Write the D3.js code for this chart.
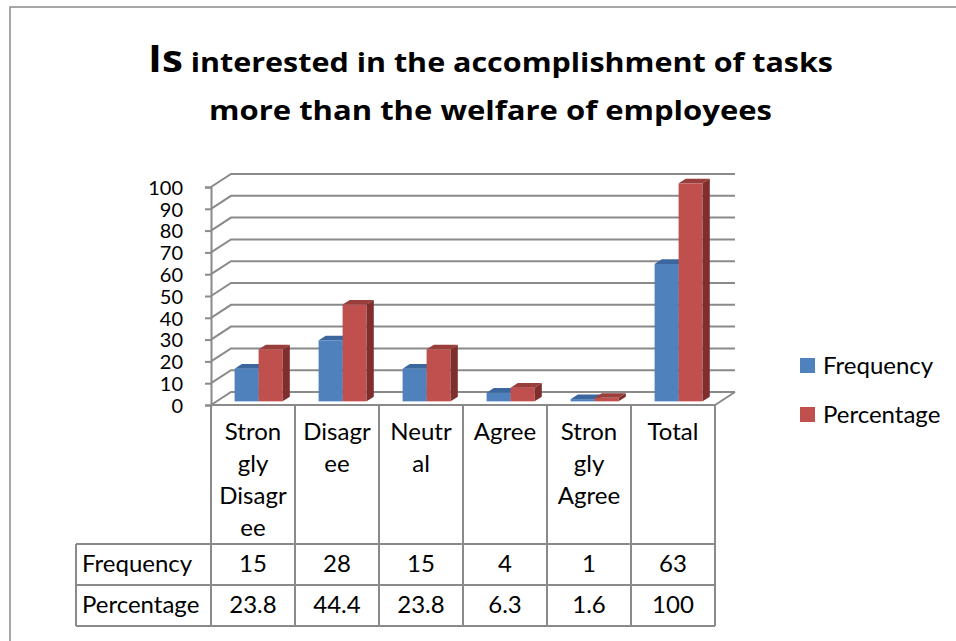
<!DOCTYPE html>
<html>
<head>
<meta charset="utf-8">
<script src="https://cdn.jsdelivr.net/npm/d3@7"></script>
<style>
  body { margin: 0; background: #fff; }
  svg text { font-family: Lato, "Open Sans", sans-serif; fill: #000; }
  svg text.title { font-family: "Open Sans", sans-serif; font-weight: bold; }
</style>
</head>
<body>
<div class="chart"></div>
<script>
// data ------
const categories = ["Strongly Disagree", "Disagree", "Neutral", "Agree", "Strongly Agree", "Total"];
const categoryLines = [["Stron", "gly", "Disagr", "ee"], ["Disagr", "ee"], ["Neutr", "al"], ["Agree"], ["Stron", "gly", "Agree"], ["Total"]];
const seriesNames = ["Frequency", "Percentage"];
const frequency = [15, 28, 15, 4, 1, 63];
const percentage = [23.8, 44.4, 23.8, 6.3, 1.6, 100];
const yTicks = [0, 10, 20, 30, 40, 50, 60, 70, 80, 90, 100];

const colors = {
  Frequency: {front: "#4F81BD", top: "#3C679E", side: "#2F5A8E"},
  Percentage: {front: "#C0504D", top: "#9A3E3B", side: "#7E2F2D"}
};

const width = 956, height = 641;
const svg = d3.select(".chart").append("svg")
  .attr("width", width)
  .attr("height", height);

// chart frame
svg.append("rect")
  .attr("x", 10).attr("y", 7)
  .attr("width", 980).attr("height", 680)
  .attr("fill", "none")
  .attr("stroke", "#8a8a8a")
  .attr("stroke-width", 1.5);

// title
const t1 = svg.append("text")
  .attr("class", "title")
  .attr("x", 148).attr("y", 72)
  .attr("textLength", 685)
  .attr("lengthAdjust", "spacingAndGlyphs");
t1.append("tspan").attr("font-size", 38).text("Is");
t1.append("tspan").attr("font-size", 27.5).text(" interested in the accomplishment of tasks");

svg.append("text")
  .attr("class", "title")
  .attr("x", 209).attr("y", 120)
  .attr("font-size", 27.5)
  .attr("textLength", 563)
  .attr("lengthAdjust", "spacingAndGlyphs")
  .text("more than the welfare of employees");

// scales ------
const x = d3.scaleBand()
  .domain(categories)
  .range([211, 715]);

const y = d3.scaleLinear()
  .domain([0, 100])
  .range([405, 187]);

const DX = 20, DY = 13;          // depth of the 3d box
const frontF = 0.28, depthF = 0.36; // where the bars sit in the depth

const xs = d3.scaleBand()
  .domain(seriesNames)
  .range([x.bandwidth() / 2 - 24, x.bandwidth() / 2 + 24]);

const gridColor = "#8a8a8a";

// gridlines on the side wall and back wall
const grid = svg.append("g");
yTicks.forEach(v => {
  const yy = y(v);
  grid.append("path")
    .attr("d", `M211,${yy}L${211 + DX},${yy - DY}L${715 + DX},${yy - DY}`)
    .attr("fill", "none")
    .attr("stroke", gridColor)
    .attr("stroke-width", 2);
});

// floor edges
grid.append("path")
  .attr("d", `M211,${y(0)}L715,${y(0)}L${715 + DX},${y(0) - DY}`)
  .attr("fill", "none")
  .attr("stroke", gridColor)
  .attr("stroke-width", 2);

// y axis
const yAxis = d3.axisLeft(y)
  .tickValues(yTicks)
  .tickSize(6)
  .tickPadding(22)
  .tickFormat(d3.format("d"));

const ga = svg.append("g")
  .attr("transform", "translate(211,0)")
  .call(yAxis);
ga.select(".domain").attr("stroke", gridColor).attr("stroke-width", 2);
ga.selectAll(".tick line").attr("stroke", gridColor).attr("stroke-width", 2);
ga.selectAll(".tick text")
  .attr("font-size", 20)
  .attr("font-family", "Lato, sans-serif")
  .attr("fill", "#000")
  .attr("dy", "0.36em");

// bars ------
const bars = [];
categories.forEach((c, i) => {
  bars.push({cat: c, s: "Frequency", v: frequency[i]});
  bars.push({cat: c, s: "Percentage", v: percentage[i]});
});

const fdx = DX * frontF, fdy = DY * frontF;
const bdx = DX * depthF, bdy = DY * depthF;

const gb = svg.append("g");
bars.forEach(d => {
  const x0 = x(d.cat) + xs(d.s) + fdx;
  const w = xs.bandwidth();
  const yTop = y(d.v) - fdy;
  const yBase = y(0) - fdy;
  const col = colors[d.s];
  gb.append("rect")
    .attr("x", x0).attr("y", yTop)
    .attr("width", w).attr("height", yBase - yTop)
    .attr("fill", col.front);
  gb.append("path")
    .attr("d", `M${x0},${yTop}L${x0 + w},${yTop}L${x0 + w + bdx},${yTop - bdy}L${x0 + bdx},${yTop - bdy}Z`)
    .attr("fill", col.top);
  gb.append("path")
    .attr("d", `M${x0 + w},${yTop}L${x0 + w + bdx},${yTop - bdy}L${x0 + w + bdx},${yBase - bdy}L${x0 + w},${yBase}Z`)
    .attr("fill", col.side);
});

// data table ------
const tableLeft = 76, row1 = 544, row2 = 585, row3 = 626;
const tg = svg.append("g")
  .attr("stroke", gridColor)
  .attr("stroke-width", 2);

x.domain().forEach(c => {
  tg.append("line")
    .attr("x1", x(c)).attr("x2", x(c))
    .attr("y1", y(0)).attr("y2", row3);
});
tg.append("line").attr("x1", 715).attr("x2", 715).attr("y1", y(0)).attr("y2", row3);
tg.append("line").attr("x1", tableLeft).attr("x2", tableLeft).attr("y1", row1).attr("y2", row3);
[row1, row2, row3].forEach(r => {
  tg.append("line").attr("x1", tableLeft).attr("x2", 715).attr("y1", r).attr("y2", r);
});

// header labels
categories.forEach((c, i) => {
  const txt = svg.append("text")
    .attr("text-anchor", "middle")
    .attr("font-size", 24);
  categoryLines[i].forEach((ln, j) => {
    txt.append("tspan")
      .attr("x", x(c) + x.bandwidth() / 2)
      .attr("y", 440 + j * 32)
      .text(ln);
  });
});

// row labels and values
const rows = [
  {name: "Frequency", vals: frequency, yy: 572},
  {name: "Percentage", vals: percentage, yy: 613}
];
rows.forEach(r => {
  svg.append("text")
    .attr("x", 82).attr("y", r.yy)
    .attr("font-size", 24)
    .text(r.name);
  r.vals.forEach((v, i) => {
    svg.append("text")
      .attr("x", x(categories[i]) + x.bandwidth() / 2)
      .attr("y", r.yy)
      .attr("text-anchor", "middle")
      .attr("font-size", 24)
      .text(v);
  });
});

// legend
const lg = svg.append("g");
seriesNames.forEach((s, i) => {
  lg.append("rect")
    .attr("x", 800).attr("y", 358 + i * 49)
    .attr("width", 15).attr("height", 15)
    .attr("fill", colors[s].front);
  lg.append("text")
    .attr("x", 823).attr("y", 374 + i * 49)
    .attr("font-size", 24)
    .text(s);
});
</script>
</body>
</html>
